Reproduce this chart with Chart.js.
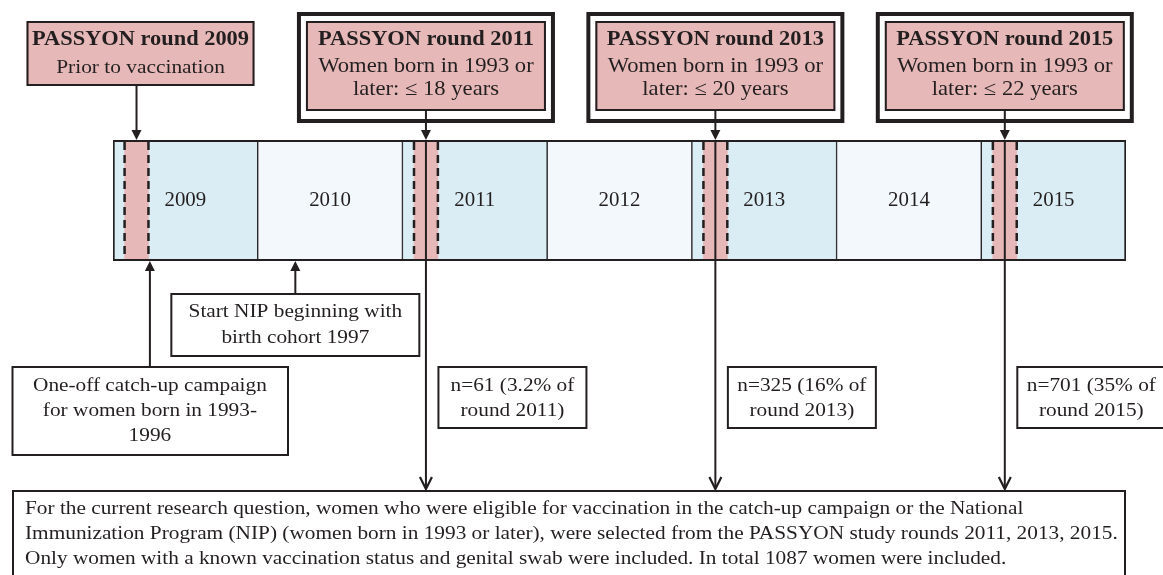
<!DOCTYPE html>
<html><head><meta charset="utf-8">
<style>html,body{margin:0;padding:0;background:#fff;overflow:hidden}</style>
<script src="https://cdn.jsdelivr.net/npm/chart.js@4/dist/chart.umd.min.js"></script>
</head><body>
<canvas id="c" width="1163" height="575"></canvas>
<script>
// ---- data ----
const years = ['2009','2010','2011','2012','2013','2014','2015'];
const yearStarts = [2009, 2010, 2011, 2012, 2013, 2014, 2015];
const roundYears = [2009, 2011, 2013, 2015];
const roundWindowStart = [2009.08, 2011.08, 2013.08, 2015.08];
const roundWindowEnd = [2009.245, 2011.245, 2013.245, 2015.245];
const roundTitles = ['PASSYON round 2009', 'PASSYON round 2011', 'PASSYON round 2013', 'PASSYON round 2015'];
const roundSubtitles = [
  ['Prior to vaccination'],
  ['Women born in 1993 or', 'later: \u2264 18 years'],
  ['Women born in 1993 or', 'later: \u2264 20 years'],
  ['Women born in 1993 or', 'later: \u2264 22 years']
];
const includedRounds = [2011, 2013, 2015];
const includedN = [61, 325, 701];
const includedPct = ['3.2%', '16%', '35%'];
const eventDates = [2009.255, 2010.26];
const eventLabels = [
  ['One-off catch-up campaign', 'for women born in 1993-', '1996'],
  ['Start NIP beginning with', 'birth cohort 1997']
];
const summaryLines = [
  'For the current research question, women who were eligible for vaccination in the catch-up campaign or the National',
  'Immunization Program (NIP) (women born in 1993 or later), were selected from the PASSYON study rounds 2011, 2013, 2015.',
  'Only women with a known vaccination status and genital swab were included. In total 1087 women were included.'
];

// ---- styles ----
const COL = {dark:'#231f20', pink:'#e6b8b7', blue:'#daedf4', pale:'#f2f8fb'};
const FONT = '"Liberation Serif","Times New Roman",serif';
const F_TITLE = {f: 'bold 20px ' + FONT, sx: 1.12};
const F_SUB = {f: '20.2px ' + FONT, sx: 1.12};
const F_SUB0 = {f: '19.5px ' + FONT, sx: 1.097};
const F_BODY = {f: '19px ' + FONT, sx: 1.121};
const F_YEAR = {f: '20.5px ' + FONT, sx: 1.02};

function triHead(ctx, x, y, dir) { // tip at (x,y); dir=1 points down, -1 points up
  ctx.beginPath(); ctx.moveTo(x, y); ctx.lineTo(x - 5, y - 10 * dir); ctx.lineTo(x + 5, y - 10 * dir); ctx.closePath(); ctx.fill();
}
function chevron(ctx, x, y) {
  ctx.beginPath(); ctx.moveTo(x - 6, y - 13); ctx.lineTo(x, y - 1); ctx.lineTo(x + 6, y - 13); ctx.stroke();
}
function vline(ctx, x, y1, y2, w) { ctx.lineWidth = w || 2; ctx.beginPath(); ctx.moveTo(x, y1); ctx.lineTo(x, y2); ctx.stroke(); }
function box(ctx, x1, y1, x2, y2, w, fill) {
  if (fill) { ctx.fillStyle = fill; ctx.fillRect(x1, y1, x2 - x1, y2 - y1); }
  ctx.lineWidth = w; ctx.strokeStyle = COL.dark;
  ctx.strokeRect(x1 + w / 2, y1 + w / 2, x2 - x1 - w, y2 - y1 - w);
}
function lines(ctx, arr, cx, ys, font, align) {
  arr.forEach((t, i) => {
    ctx.save();
    ctx.font = font.f; ctx.fillStyle = COL.dark; ctx.textAlign = align || 'center'; ctx.textBaseline = 'middle';
    ctx.translate(cx, ys[i]); ctx.scale(font.sx, 1);
    ctx.fillText(t, 0, 0);
    ctx.restore();
  });
}

const diagram = {
  id: 'diagram',
  afterDatasetsDraw(chart) {
    const ctx = chart.ctx, xs = chart.scales.x, ca = chart.chartArea;
    ctx.save();
    ctx.strokeStyle = COL.dark; ctx.fillStyle = COL.dark;
    // top/bottom border of the timeline over the stripes
    ctx.lineWidth = 2;
    ctx.beginPath(); ctx.moveTo(ca.left, ca.top + 1); ctx.lineTo(ca.right, ca.top + 1);
    ctx.moveTo(ca.left, ca.bottom - 1); ctx.lineTo(ca.right, ca.bottom - 1); ctx.stroke();
    // dashed edges of the sampling windows
    ctx.setLineDash([8, 5]); ctx.lineWidth = 2.5;
    roundWindowStart.forEach((s, i) => {
      [s, roundWindowEnd[i]].forEach(v => {
        const x = xs.getPixelForValue(v);
        ctx.beginPath(); ctx.moveTo(x, ca.top + 2); ctx.lineTo(x, ca.bottom - 2); ctx.stroke();
      });
    });
    ctx.setLineDash([]);
    ctx.restore();
    // year labels
    const cy = (ca.top + ca.bottom) / 2;
    yearStarts.forEach((s, i) => lines(ctx, [years[i]], xs.getPixelForValue(s + 0.5), [cy], F_YEAR));
  },
  afterDraw(chart) {
    const ctx = chart.ctx, xs = chart.scales.x, ca = chart.chartArea;
    ctx.save();
    ctx.strokeStyle = COL.dark; ctx.fillStyle = COL.dark;
    // round boxes + arrows
    roundYears.forEach((r, i) => {
      const ax = xs.getPixelForValue((roundWindowStart[i] + roundWindowEnd[i]) / 2);
      if (i === 0) {
        const cx = ax + 4, x1 = cx - 114, x2 = cx + 114;
        box(ctx, x1, 21, x2, 86, 2, COL.pink);
        lines(ctx, [roundTitles[i]], cx, [40], F_TITLE);
        lines(ctx, roundSubtitles[i], cx, [68], F_SUB0);
        ctx.strokeStyle = COL.dark; ctx.fillStyle = COL.dark;
        vline(ctx, ax, 86, ca.top - 4);
        triHead(ctx, ax, ca.top, 1);
      } else {
        const cx = ax, x1 = cx - 120, x2 = cx + 120;
        box(ctx, x1 - 9, 12, x2 + 9, 123, 4, null);
        box(ctx, x1, 21, x2, 111, 2, COL.pink);
        lines(ctx, [roundTitles[i]], cx, [40], F_TITLE);
        lines(ctx, roundSubtitles[i], cx, [67, 90], F_SUB);
        ctx.strokeStyle = COL.dark; ctx.fillStyle = COL.dark;
        vline(ctx, ax, 111, ca.top - 4);
        triHead(ctx, ax, ca.top, 1);
        vline(ctx, ax, ca.top, 488);
        ctx.lineWidth = 2.2; chevron(ctx, ax, 490);
      }
    });
    // included sample boxes
    includedRounds.forEach((r, i) => {
      const idx = roundYears.indexOf(r);
      const ax = xs.getPixelForValue((roundWindowStart[idx] + roundWindowEnd[idx]) / 2);
      const x1 = ax + 11.5, x2 = x1 + 150;
      box(ctx, x1, 366, x2, 429, 2, '#ffffff');
      lines(ctx, ['n=' + includedN[i] + ' (' + includedPct[i] + ' of', 'round ' + r + ')'], (x1 + x2) / 2, [386, 411], F_BODY);
    });
    // event boxes with upward arrows
    ctx.strokeStyle = COL.dark; ctx.fillStyle = COL.dark;
    const ex0 = xs.getPixelForValue(eventDates[0]);
    vline(ctx, ex0, 366, ca.bottom + 6);
    triHead(ctx, ex0, ca.bottom, -1);
    box(ctx, 11.5, 366, 289, 456, 2, '#ffffff');
    lines(ctx, eventLabels[0], ex0, [386, 411, 436], F_BODY);
    ctx.strokeStyle = COL.dark; ctx.fillStyle = COL.dark;
    const ex1 = xs.getPixelForValue(eventDates[1]);
    vline(ctx, ex1, 293, ca.bottom + 6);
    triHead(ctx, ex1, ca.bottom, -1);
    box(ctx, ex1 - 125, 293, ex1 + 125, 357, 2, '#ffffff');
    lines(ctx, eventLabels[1], ex1, [312, 338], F_BODY);
    // summary box
    box(ctx, 12, 490, 1126, 590, 2, null);
    lines(ctx, summaryLines, 25, [509, 534, 559], F_BODY, 'left');
    ctx.restore();
  }
};

const datasets = [];
roundWindowStart.forEach((s, i) => datasets.push({
  label: 'round ' + roundYears[i], data: [[s, roundWindowEnd[i]]],
  backgroundColor: COL.pink, borderWidth: 0, grouped: false,
  barPercentage: 1, categoryPercentage: 1, order: 1
}));
yearStarts.forEach((s, i) => datasets.push({
  label: years[i], data: [[s, s + 1]],
  backgroundColor: i % 2 === 0 ? COL.blue : COL.pale,
  borderColor: COL.dark,
  borderWidth: {top: 2, bottom: 2, left: i === 0 ? 2 : 1, right: i === yearStarts.length - 1 ? 2 : 1},
  borderSkipped: false, grouped: false,
  barPercentage: 1, categoryPercentage: 1, order: 2
}));

new Chart(document.getElementById('c'), {
  type: 'bar',
  data: {labels: ['timeline'], datasets},
  options: {
    indexAxis: 'y', responsive: false, animation: false, devicePixelRatio: 1,
    layout: {padding: {left: 113, right: 37, top: 140, bottom: 314}},
    scales: {
      x: {type: 'linear', min: 2009, max: 2016, display: false},
      y: {type: 'category', display: false}
    },
    plugins: {legend: {display: false}, tooltip: {enabled: false}}
  },
  plugins: [diagram]
});
</script>
</body></html>
